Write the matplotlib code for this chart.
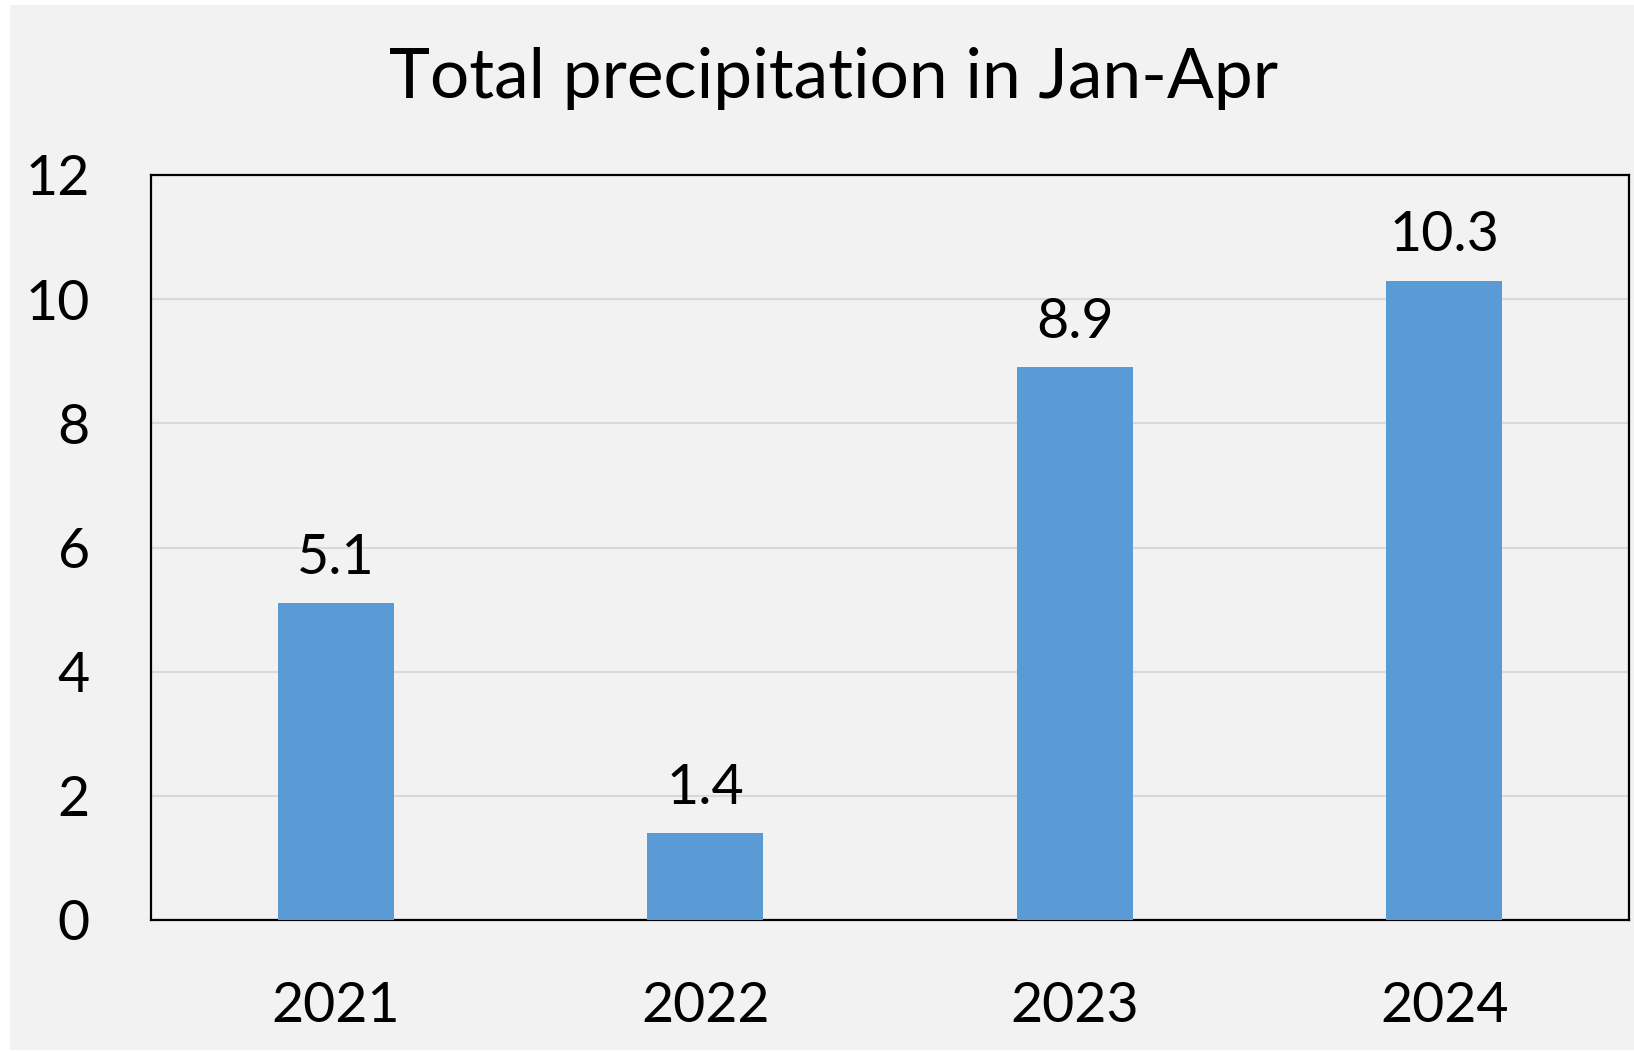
import matplotlib
matplotlib.use("Agg")
import matplotlib.pyplot as plt
from matplotlib.patches import Rectangle

years = ["2021", "2022", "2023", "2024"]
precip = [5.1, 1.4, 8.9, 10.3]
yticks = [0, 2, 4, 6, 8, 10, 12]

plt.rcParams['font.family'] = ['Lato', 'DejaVu Sans']

W, H = 1634, 1051
fig = plt.figure(figsize=(W / 100, H / 100), dpi=100)
fig.patch.set_facecolor('white')
bg = Rectangle((10 / W, 1 / H), 1624 / W, 1045 / H,
               transform=fig.transFigure, facecolor='#F2F2F2',
               edgecolor='none', zorder=-10)
fig.add_artist(bg)

ax = fig.add_axes([151 / W, (H - 920) / H, 1478 / W, 745 / H])
ax.set_zorder(1)
ax.set_facecolor('#F2F2F2')
x = range(len(years))
bars = ax.bar(x, precip, width=0.314, color='#5B9BD5', zorder=3)
ax.set_xlim(-0.5, len(years) - 0.5)
ax.set_ylim(0, 12)
ax.set_yticks(yticks)
ax.set_xticks(list(x))
ax.set_xticklabels(years)
ax.tick_params(axis='both', length=0, labelsize=40, colors='black')
ax.tick_params(axis='y', pad=44)
ax.tick_params(axis='x', pad=44)
ax.yaxis.grid(True, color='#D9D9D9', linewidth=1.5, zorder=1)
ax.set_axisbelow(True)
for s in ax.spines.values():
    s.set_color('black')
    s.set_linewidth(1.6)

for xi, v in zip(x, precip):
    ax.annotate(f"{v}", (xi, v), xytext=(0, 21), textcoords='offset points',
                ha='center', va='baseline', fontsize=40, color='black')

fig.text(834 / W, (H - 98) / H, "Total precipitation in Jan-Apr",
         ha='center', va='baseline', fontsize=50, color='black', zorder=5)

fig.savefig('out.png', dpi=100, facecolor=fig.get_facecolor())
